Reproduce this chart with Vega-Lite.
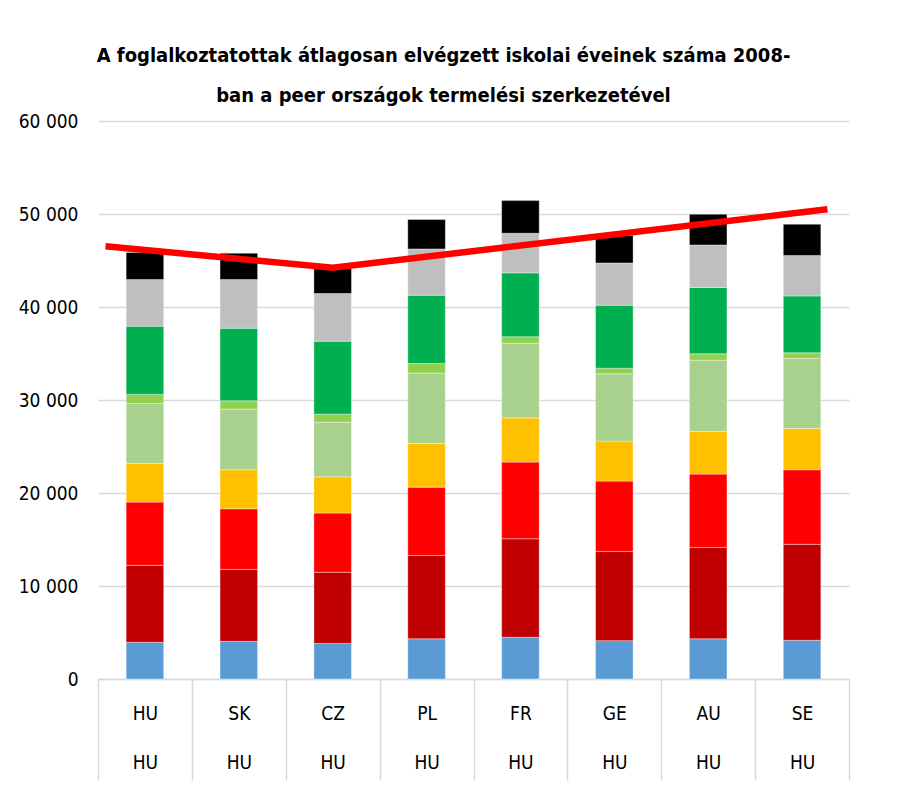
{
  "$schema": "https://vega.github.io/schema/vega-lite/v6.json",
  "width": 751,
  "height": 558,
  "autosize": {"type": "none"},
  "padding": {"left": 98, "top": 121, "right": 52, "bottom": 108},
  "title": {
    "text": ["A foglalkoztatottak átlagosan elvégzett iskolai éveinek száma 2008-", "ban a peer országok termelési szerkezetével"],
    "font": "DejaVu Sans Condensed, Roboto Condensed, Liberation Sans Narrow, Roboto, sans-serif",
    "fontSize": 20,
    "fontWeight": "bold",
    "color": "#000000",
    "anchor": "middle",
    "dx": -30,
    "offset": 6,
    "lineHeight": 40
  },
  "config": {
    "view": {"stroke": null}
  },
  "datasets": {
    "bars": [
      {"c":"HU","s":"S1","o":1,"v":3950},{"c":"HU","s":"S2","o":2,"v":8270},{"c":"HU","s":"S3","o":3,"v":6800},{"c":"HU","s":"S4","o":4,"v":4160},{"c":"HU","s":"S5","o":5,"v":6450},{"c":"HU","s":"S6","o":6,"v":970},{"c":"HU","s":"S7","o":7,"v":7340},{"c":"HU","s":"S8","o":8,"v":5020},{"c":"HU","s":"S9","o":9,"v":2900},
      {"c":"SK","s":"S1","o":1,"v":4050},{"c":"SK","s":"S2","o":2,"v":7740},{"c":"SK","s":"S3","o":3,"v":6510},{"c":"SK","s":"S4","o":4,"v":4200},{"c":"SK","s":"S5","o":5,"v":6520},{"c":"SK","s":"S6","o":6,"v":890},{"c":"SK","s":"S7","o":7,"v":7810},{"c":"SK","s":"S8","o":8,"v":5240},{"c":"SK","s":"S9","o":9,"v":2820},
      {"c":"CZ","s":"S1","o":1,"v":3830},{"c":"CZ","s":"S2","o":2,"v":7640},{"c":"CZ","s":"S3","o":3,"v":6370},{"c":"CZ","s":"S4","o":4,"v":3900},{"c":"CZ","s":"S5","o":5,"v":5880},{"c":"CZ","s":"S6","o":6,"v":860},{"c":"CZ","s":"S7","o":7,"v":7840},{"c":"CZ","s":"S8","o":8,"v":5130},{"c":"CZ","s":"S9","o":9,"v":2950},
      {"c":"PL","s":"S1","o":1,"v":4330},{"c":"PL","s":"S2","o":2,"v":8960},{"c":"PL","s":"S3","o":3,"v":7340},{"c":"PL","s":"S4","o":4,"v":4700},{"c":"PL","s":"S5","o":5,"v":7560},{"c":"PL","s":"S6","o":6,"v":1040},{"c":"PL","s":"S7","o":7,"v":7340},{"c":"PL","s":"S8","o":8,"v":4980},{"c":"PL","s":"S9","o":9,"v":3150},
      {"c":"FR","s":"S1","o":1,"v":4480},{"c":"FR","s":"S2","o":2,"v":10600},{"c":"FR","s":"S3","o":3,"v":8240},{"c":"FR","s":"S4","o":4,"v":4760},{"c":"FR","s":"S5","o":5,"v":8030},{"c":"FR","s":"S6","o":6,"v":680},{"c":"FR","s":"S7","o":7,"v":6880},{"c":"FR","s":"S8","o":8,"v":4260},{"c":"FR","s":"S9","o":9,"v":3510},
      {"c":"GE","s":"S1","o":1,"v":4120},{"c":"GE","s":"S2","o":2,"v":9600},{"c":"GE","s":"S3","o":3,"v":7560},{"c":"GE","s":"S4","o":4,"v":4300},{"c":"GE","s":"S5","o":5,"v":7230},{"c":"GE","s":"S6","o":6,"v":610},{"c":"GE","s":"S7","o":7,"v":6770},{"c":"GE","s":"S8","o":8,"v":4550},{"c":"GE","s":"S9","o":9,"v":2960},
      {"c":"AU","s":"S1","o":1,"v":4330},{"c":"AU","s":"S2","o":2,"v":9820},{"c":"AU","s":"S3","o":3,"v":7880},{"c":"AU","s":"S4","o":4,"v":4590},{"c":"AU","s":"S5","o":5,"v":7660},{"c":"AU","s":"S6","o":6,"v":680},{"c":"AU","s":"S7","o":7,"v":7140},{"c":"AU","s":"S8","o":8,"v":4580},{"c":"AU","s":"S9","o":9,"v":3290},
      {"c":"SE","s":"S1","o":1,"v":4160},{"c":"SE","s":"S2","o":2,"v":10320},{"c":"SE","s":"S3","o":3,"v":8020},{"c":"SE","s":"S4","o":4,"v":4440},{"c":"SE","s":"S5","o":5,"v":7530},{"c":"SE","s":"S6","o":6,"v":600},{"c":"SE","s":"S7","o":7,"v":6120},{"c":"SE","s":"S8","o":8,"v":4350},{"c":"SE","s":"S9","o":9,"v":3360}
    ],
    "line": [
      {"x": 0.08, "v": 46540},
      {"x": 2.5, "v": 44220},
      {"x": 7.77, "v": 50510}
    ]
  },
  "layer": [
    {
      "data": {"name": "bars"},
      "mark": {"type": "bar", "width": {"band": 0.4}, "stroke": "#ffffff", "strokeWidth": 0.6, "strokeOpacity": 0.6},
      "encoding": {
        "x": {
          "field": "c", "type": "nominal",
          "sort": ["HU","SK","CZ","PL","FR","GE","AU","SE"],
          "scale": {"paddingInner": 0, "paddingOuter": 0},
          "axis": {
            "title": null,
            "labelAngle": 0,
            "labelExpr": "indexof(['HU','SK','CZ','PL','FR','GE','AU','SE'], datum.value) >= 0 ? [datum.value, 'HU'] : ''",
            "labelFont": "DejaVu Sans Condensed, Roboto Condensed, Liberation Sans Narrow, Roboto, sans-serif",
            "labelFontSize": 19,
            "labelColor": "#000000",
            "labelLineHeight": 49,
            "labelPadding": -76,
            "domainColor": "#d9d9d9",
            "domainWidth": 1.5,
            "tickColor": "#d9d9d9",
            "tickWidth": 1.5,
            "tickSize": 101,
            "tickBand": "extent",
            "grid": false
          }
        },
        "y": {
          "field": "v", "type": "quantitative", "stack": "zero",
          "scale": {"domain": [0, 60000]},
          "axis": {
            "title": null,
            "values": [0, 10000, 20000, 30000, 40000, 50000, 60000],
            "labelExpr": "replace(format(datum.value, ','), ',', ' ')",
            "labelFont": "DejaVu Sans Condensed, Roboto Condensed, Liberation Sans Narrow, Roboto, sans-serif",
            "labelFontSize": 19,
            "labelColor": "#000000",
            "labelPadding": 20,
            "ticks": false,
            "domain": false,
            "gridColor": "#d9d9d9",
            "gridWidth": 1.5
          }
        },
        "color": {
          "field": "s", "type": "nominal",
          "scale": {
            "domain": ["S1","S2","S3","S4","S5","S6","S7","S8","S9"],
            "range": ["#5b9bd5","#c00000","#ff0000","#ffc000","#a9d18e","#92d050","#00b050","#bfbfbf","#000000"]
          },
          "legend": null
        },
        "order": {"field": "o", "type": "quantitative"}
      }
    },
    {
      "data": {"name": "line"},
      "mark": {"type": "line", "color": "#ff0000", "strokeWidth": 6.5},
      "encoding": {
        "x": {"field": "x", "type": "quantitative", "scale": {"domain": [0, 8]}, "axis": null},
        "y": {"field": "v", "type": "quantitative"}
      }
    }
  ],
  "resolve": {"scale": {"x": "independent"}}
}
